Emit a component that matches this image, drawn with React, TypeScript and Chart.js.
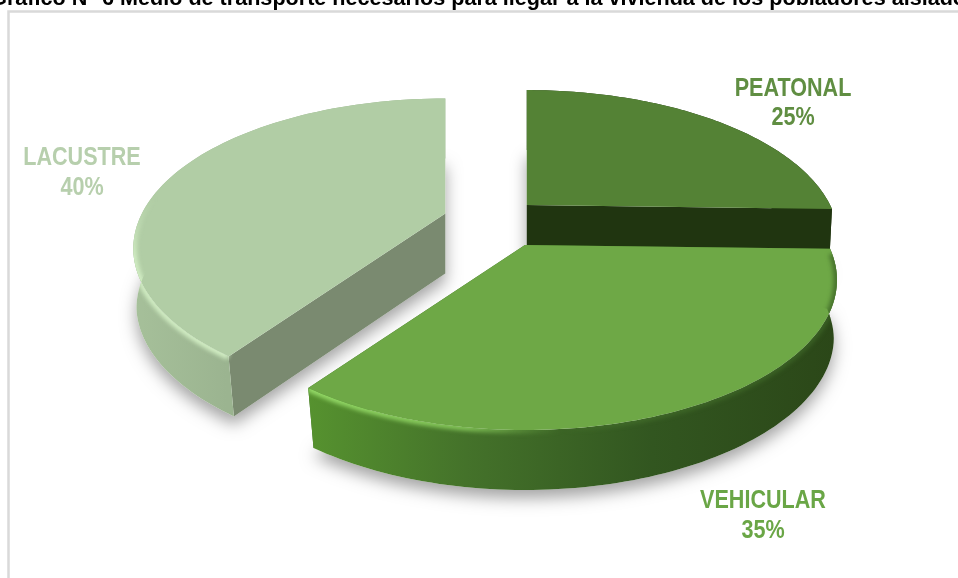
import React, { useEffect, useRef } from "react";
import { Chart, registerables } from "chart.js";

Chart.register(...registerables);

const categories = ["PEATONAL", "VEHICULAR", "LACUSTRE"];
const shares = [25, 35, 40];
const topColors = ["#548235", "#6ea846", "#b1cda5"];
const labelColors = ["#608e42", "#6aa646", "#b7cfad"];
const explode = [52, 77, 47];
const titleText = "Gráfico N° 6 Medio de transporte necesarios para llegar a la vivienda de los pobladores aislados";
const titlePrefix = "Gráfico N° 6 ";

// view projection of the tilted disc
const THETA_KNOTS = [-90, 0, 126, 270];
const PHI_KNOTS = [-90, -12, 134, 270];
const OFFSET_Y = 0.379;
const APEX_DROP = 35;
const RY = 150;
const DEPTH = 60;
const BOTTOM_SHRINK = 0.99;
const BOTTOM_SLANT = 0.02;

const LABEL_POS = [
  { x: 793, y: 96, dy: 29 },
  { x: 763, y: 508, dy: 30 },
  { x: 82, y: 165, dy: 30 },
];

type Style = {
  cutWall: string;
  side: [number, string][];
  rim: [number, string][] | null;
  rimFrom: number;
  rimTo: number;
  rimReverse: boolean;
};
const STYLES: Style[] = [
  { cutWall: "#203510", side: [[0, "#203510"], [1, "#203510"]], rim: null, rimFrom: 0, rimTo: 0, rimReverse: false },
  {
    cutWall: "#3d6b25",
    side: [[0, "#56922f"], [0.3, "#44722a"], [0.65, "#325620"], [1, "#2b4718"]],
    rim: [
      [0, "rgba(150,220,105,1)"],
      [0.3, "rgba(140,208,95,0.85)"],
      [0.48, "rgba(110,168,70,0)"],
      [0.7, "rgba(70,115,45,0.55)"],
      [1, "rgba(60,100,38,0.8)"],
    ],
    rimFrom: -10,
    rimTo: 134,
    rimReverse: false,
  },
  {
    cutWall: "#7a8a70",
    side: [[0, "#a6c09a"], [0.3, "#9bb490"], [1, "#9bb490"]],
    rim: [
      [0, "rgba(210,238,196,0)"],
      [0.25, "rgba(210,238,196,0.95)"],
      [1, "rgba(210,238,196,1)"],
    ],
    rimFrom: 134,
    rimTo: 200,
    rimReverse: true,
  },
];

function phiOf(thetaDeg: number) {
  let t = thetaDeg;
  while (t < -90) t += 360;
  while (t > 270) t -= 360;
  for (let i = 0; i < THETA_KNOTS.length - 1; i++) {
    if (t <= THETA_KNOTS[i + 1]) {
      const f = (t - THETA_KNOTS[i]) / (THETA_KNOTS[i + 1] - THETA_KNOTS[i]);
      return PHI_KNOTS[i] + f * (PHI_KNOTS[i + 1] - PHI_KNOTS[i]);
    }
  }
  return 270;
}

const rad = (d: number) => (d * Math.PI) / 180;

function arcPoints(ax: number, ay: number, R: number, p0: number, p1: number, bottom: boolean) {
  const pts: [number, number][] = [];
  const n = 90;
  for (let i = 0; i <= n; i++) {
    const p = rad(p0 + ((p1 - p0) * i) / n);
    const s = Math.sin(p);
    const dx = R * Math.cos(p);
    const y = ay + APEX_DROP + RY * s;
    pts.push(bottom ? [ax + dx * (BOTTOM_SHRINK - BOTTOM_SLANT * Math.max(s, 0)), y + DEPTH] : [ax + dx, y]);
  }
  return pts;
}

function tracePoly(ctx: CanvasRenderingContext2D, pts: [number, number][]) {
  ctx.beginPath();
  pts.forEach(([x, y], i) => (i ? ctx.lineTo(x, y) : ctx.moveTo(x, y)));
  ctx.closePath();
}

function drawSlice(ctx: CanvasRenderingContext2D, arc: any, i: number) {
  const st = STYLES[i];
  const mid = (arc.startAngle + arc.endAngle) / 2;
  const off = arc.options.offset;
  const ax = arc.x + Math.cos(mid) * off;
  const ay = arc.y + Math.sin(mid) * off * OFFSET_Y;
  const R = arc.outerRadius;
  const p0 = phiOf((arc.startAngle * 180) / Math.PI);
  let p1 = phiOf((arc.endAngle * 180) / Math.PI);
  if (p1 <= p0) p1 += 360;

  const top = arcPoints(ax, ay, R, p0, p1, false);
  const bot = arcPoints(ax, ay, R, p0, p1, true);
  const apexTop: [number, number] = [ax, ay];
  const apexBot: [number, number] = [ax, ay + DEPTH];

  // soft ground shadow
  ctx.save();
  ctx.shadowColor = "rgba(0,0,0,0.36)";
  ctx.shadowBlur = 16;
  ctx.shadowOffsetY = 8;
  ctx.fillStyle = "#fff";
  tracePoly(ctx, [apexBot, ...bot]);
  ctx.fill();
  ctx.restore();

  // cut walls
  ctx.fillStyle = st.cutWall;
  [[top[0], bot[0]], [top[top.length - 1], bot[bot.length - 1]]].forEach(([a, b]) => {
    tracePoly(ctx, [apexTop, a, b, apexBot]);
    ctx.fill();
  });

  // outer wall
  const xs = top.map((p) => p[0]);
  const g = ctx.createLinearGradient(Math.min(...xs), 0, Math.max(...xs), 0);
  st.side.forEach(([s, c]) => g.addColorStop(s, c));
  ctx.fillStyle = g;
  tracePoly(ctx, [...top, ...bot.slice().reverse()]);
  ctx.fill();

  // top face
  ctx.fillStyle = arc.options.backgroundColor;
  tracePoly(ctx, [apexTop, ...top]);
  ctx.fill();

  // bevelled rim, kept inside the body of the slice
  if (st.rim) {
    const rimPts = arcPoints(ax, ay, R, st.rimFrom, st.rimTo, false);
    const a = rimPts[0];
    const b = rimPts[rimPts.length - 1];
    const rx = rimPts.map((p) => p[0]);
    const rg = st.rimReverse
      ? ctx.createLinearGradient(b[0], b[1], a[0], a[1])
      : ctx.createLinearGradient(Math.min(...rx), 0, Math.max(...rx), 0);
    st.rim.forEach(([s, c]) => rg.addColorStop(s, c));
    ctx.save();
    tracePoly(ctx, [apexTop, ...top, ...bot.slice().reverse()]);
    ctx.clip();
    ctx.filter = "blur(2px)";
    ctx.strokeStyle = rg;
    ctx.lineWidth = 7;
    ctx.beginPath();
    rimPts.forEach(([x, y], k) => (k ? ctx.lineTo(x, y) : ctx.moveTo(x, y)));
    ctx.stroke();
    ctx.restore();
  }
}

const pie3dPlugin = {
  id: "pie3d",
  beforeDraw(chart: any) {
    const ctx = chart.ctx;
    ctx.save();
    ctx.fillStyle = "#fff";
    ctx.fillRect(0, 0, chart.width, chart.height);
    ctx.strokeStyle = "#d9d9d9";
    ctx.lineWidth = 2.5;
    ctx.beginPath();
    ctx.moveTo(8.5, chart.height + 2);
    ctx.lineTo(8.5, 11.5);
    ctx.lineTo(chart.width + 2, 11.5);
    ctx.stroke();
    ctx.fillStyle = "#000";
    ctx.font = "bold 21.6px 'Liberation Sans', Arial, sans-serif";
    ctx.textBaseline = "alphabetic";
    ctx.textAlign = "left";
    ctx.fillText(titleText, 120 - ctx.measureText(titlePrefix).width, 5);
    ctx.restore();
  },
  beforeDatasetDraw(chart: any, args: any) {
    const ctx = chart.ctx;
    const arcs = chart.getDatasetMeta(args.index).data;
    ctx.save();
    [0, 2, 1].forEach((i) => drawSlice(ctx, arcs[i], i));
    ctx.restore();
    return false;
  },
  afterDatasetsDraw(chart: any) {
    const ctx = chart.ctx;
    const vals = chart.data.datasets[0].data as number[];
    const total = vals.reduce((a, b) => a + b, 0);
    const squeeze = 0.83;
    ctx.save();
    ctx.textAlign = "center";
    ctx.textBaseline = "alphabetic";
    ctx.font = "bold 26px 'Liberation Sans', sans-serif";
    (chart.data.labels as string[]).forEach((lab, i) => {
      const pos = LABEL_POS[i];
      ctx.fillStyle = labelColors[i];
      ctx.save();
      ctx.translate(pos.x, 0);
      ctx.scale(squeeze, 1);
      ctx.fillText(lab, 0, pos.y);
      ctx.fillText(`${Math.round((vals[i] / total) * 100)}%`, 0, pos.y + pos.dy);
      ctx.restore();
    });
    ctx.restore();
  },
};

export default function App() {
  const ref = useRef<HTMLCanvasElement>(null);
  useEffect(() => {
    document.body.style.margin = "0";
    const chart = new Chart(ref.current!, {
      type: "pie",
      data: {
        labels: categories,
        datasets: [{ data: shares, backgroundColor: topColors, offset: explode, borderWidth: 0 }],
      },
      options: {
        responsive: false,
        animation: false,
        radius: 312,
        layout: { padding: { left: 22, right: 0, top: 0, bottom: 140 } },
        plugins: { legend: { display: false }, tooltip: { enabled: false } },
      } as any,
      plugins: [pie3dPlugin],
    });
    return () => chart.destroy();
  }, []);
  return <canvas ref={ref} width={958} height={578} style={{ display: "block" }} />;
}
